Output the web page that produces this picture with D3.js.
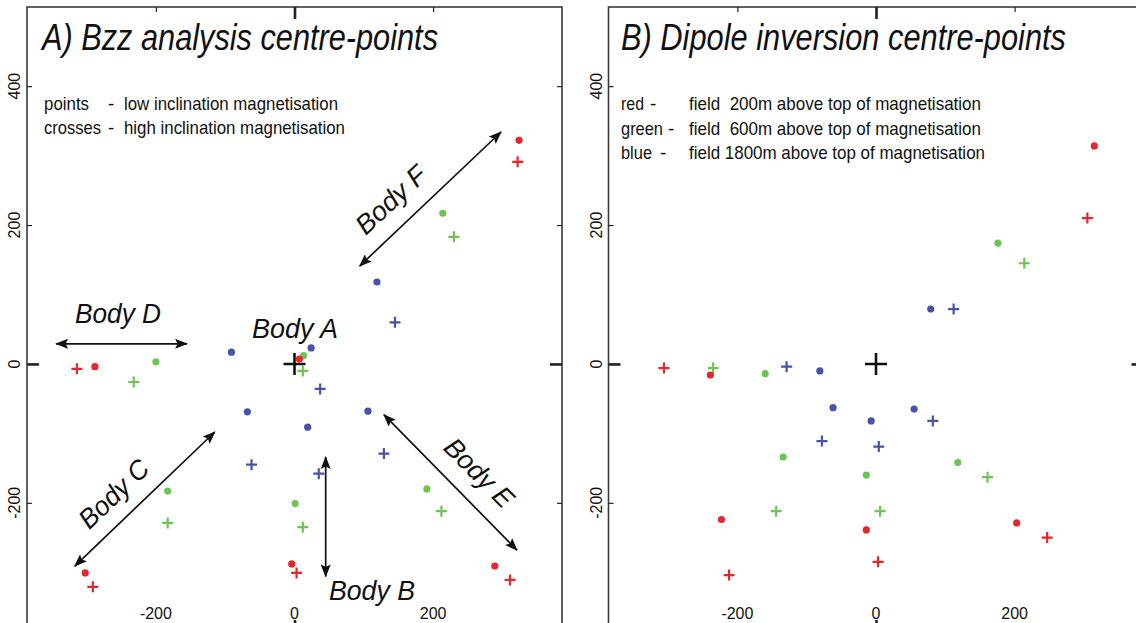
<!DOCTYPE html>
<html>
<head>
<meta charset="utf-8">
<script src="https://cdn.jsdelivr.net/npm/d3@7"></script>
<style>
  html, body { margin: 0; padding: 0; background: #fff; }
  svg { display: block; }
  text { font-family: "Liberation Sans Narrow", "Arial Narrow", "Liberation Sans", Arial, sans-serif; fill: #111; }
</style>
</head>
<body>
<svg id="chart" width="1136" height="623"></svg>
<script>
// ---------------- data ----------------
const xTicks = [-200, 0, 200];
const yTicks = [-200, 0, 200, 400];
const tickLabels = ["-200", "0", "200", "400"];

// Panel A : Bzz analysis centre-points  [x, y] (m)
const aRedDots      = [[7, 7], [-4, -288], [-302, -301], [-288, -4], [289, -291], [324, 322]];
const aRedCrosses   = [[3, -301], [-291, -321], [-314, -7], [311, -311], [322, 291]];
const aGreenDots    = [[13, 12], [1, -201], [-183, -183], [-200, 3], [191, -180], [214, 217]];
const aGreenCrosses = [[12, -10], [12, -235], [-183, -229], [-232, -26], [212, -212], [230, 183]];
const aBlueDots     = [[24, 23], [19, -91], [-68, -69], [-91, 17], [106, -68], [119, 118]];
const aBlueCrosses  = [[37, -36], [35, -158], [-62, -145], [129, -129], [145, 60]];

// Panel B : Dipole inversion centre-points
const bRedDots      = [[315, 314], [-239, -16], [-223, -224], [-14, -239], [203, -229]];
const bRedCrosses   = [[305, 210], [-306, -6], [-212, -304], [3, -285], [247, -250]];
const bGreenDots    = [[176, 174], [-160, -14], [-134, -134], [-14, -160], [118, -142]];
const bGreenCrosses = [[214, 145], [-235, -6], [-144, -212], [6, -212], [161, -163]];
const bBlueDots     = [[79, 79], [-81, -10], [-62, -63], [-7, -82], [55, -65]];
const bBlueCrosses  = [[112, 79], [-129, -4], [-78, -111], [4, -119], [82, -82]];

// Body annotation arrows (panel A), data coords [x1, y1, x2, y2]
const bodyNames  = ["Body F", "Body D", "Body C", "Body E", "Body B", "Body A"];
const bodyArrows = [[94, 141, 298, 334], [-344, 29, -155, 29], [-317, -291, -115, -98], [129, -73, 321, -268], [45, -134, 45, -306]];

const titleA = "A) Bzz analysis centre-points";
const titleB = "B) Dipole inversion centre-points";
const legendA = [["points", "low inclination magnetisation"], ["crosses", "high inclination magnetisation"]];
const legendB = [["red", "field  200m above top of magnetisation"], ["green", "field  600m above top of magnetisation"], ["blue", "field 1800m above top of magnetisation"]];

// ---------------- layout / style ----------------
const COL = { red: "#e3272b", green: "#6cc455", blue: "#4753a9" };
const svg = d3.select("#chart");
const xDomain = [-386, 386], yDomain = [-386, 514];
const yScale = d3.scaleLinear().domain(yDomain).range([632, 7]);

function drawPanel(x0, x1, pts) {
  const x = d3.scaleLinear().domain(xDomain).range([x0, x1]);
  const y = yScale;
  const g = svg.append("g");

  // frame
  g.append("rect").attr("x", x0).attr("y", 7).attr("width", x1 - x0).attr("height", 625)
    .attr("fill", "none").attr("stroke", "#3a3a3a").attr("stroke-width", 1.6);

  const styleAxis = sel => {
    sel.select(".domain").remove();
    sel.selectAll(".tick line").attr("stroke", "#222").attr("stroke-width", 1.2);
    sel.selectAll(".tick").filter(d => d === 0).select("line").attr("stroke-width", 2.6);
  };
  // small inward ticks (non-zero) and long bold tick at 0
  const mk = (axisFn, scale, vals, pos, horiz) => {
    const small = g.append("g").attr("transform", horiz ? `translate(0,${pos})` : `translate(${pos},0)`)
      .call(axisFn(scale).tickValues(vals.filter(v => v !== 0)).tickSize(-5).tickFormat(""));
    styleAxis(small);
    const big = g.append("g").attr("transform", horiz ? `translate(0,${pos})` : `translate(${pos},0)`)
      .call(axisFn(scale).tickValues([0]).tickSize(-12).tickFormat(""));
    styleAxis(big);
  };
  mk(d3.axisLeft, y, yTicks, x0, false);
  mk(d3.axisRight, y, yTicks, x1, false);
  mk(d3.axisTop, x, xTicks, 7, true);
  mk(d3.axisBottom, x, xTicks, 632, true);

  // y tick labels (rotated, outside left)
  g.selectAll(".ylab").data(yTicks).join("text")
    .attr("transform", d => `translate(${x0 - 7},${y(d)}) rotate(-90)`)
    .attr("text-anchor", "middle").attr("font-size", 16)
    .text(d => tickLabels[yTicks.indexOf(d)]);
  // x tick labels
  g.selectAll(".xlab").data(xTicks).join("text")
    .attr("x", d => x(d)).attr("y", 619)
    .attr("text-anchor", "middle").attr("font-size", 16)
    .text(d => tickLabels[yTicks.indexOf(d)]);

  // centre cross
  const cx = x(0), cy = y(0);
  g.append("path").attr("d", `M${cx - 11},${cy}H${cx + 11}M${cx},${cy - 11}V${cy + 11}`)
    .attr("stroke", "#111").attr("stroke-width", 2.6);

  // points
  pts.forEach(([data, colour, shape]) => {
    if (shape === "dot") {
      g.selectAll(null).data(data).join("circle")
        .attr("cx", d => x(d[0])).attr("cy", d => y(d[1])).attr("r", 3.6)
        .attr("fill", COL[colour]);
    } else {
      g.selectAll(null).data(data).join("path")
        .attr("d", d => { const px = x(d[0]), py = y(d[1]); return `M${px - 5.5},${py}H${px + 5.5}M${px},${py - 5.5}V${py + 5.5}`; })
        .attr("stroke", COL[colour]).attr("stroke-width", 2.2);
    }
  });
  return { x, y, g };
}

const A = drawPanel(27, 562, [
  [aBlueDots, "blue", "dot"], [aBlueCrosses, "blue", "cross"],
  [aGreenDots, "green", "dot"], [aGreenCrosses, "green", "cross"],
  [aRedDots, "red", "dot"], [aRedCrosses, "red", "cross"]
]);
const B = drawPanel(608.5, 1143.5, [
  [bBlueDots, "blue", "dot"], [bBlueCrosses, "blue", "cross"],
  [bGreenDots, "green", "dot"], [bGreenCrosses, "green", "cross"],
  [bRedDots, "red", "dot"], [bRedCrosses, "red", "cross"]
]);

// titles
svg.append("text").attr("x", 42).attr("y", 50).attr("font-size", 37).attr("font-style", "italic")
  .attr("textLength", 396).attr("lengthAdjust", "spacingAndGlyphs").text(titleA);
svg.append("text").attr("x", 621).attr("y", 50).attr("font-size", 37).attr("font-style", "italic")
  .attr("textLength", 445).attr("lengthAdjust", "spacingAndGlyphs").text(titleB);

// legend A
const legA = svg.append("g").attr("font-size", 19);
const legAW = [[45, 214], [57, 221]];
legendA.forEach((r, i) => {
  const yy = 110 + i * 24;
  legA.append("text").attr("x", 44).attr("y", yy).attr("textLength", legAW[i][0]).attr("lengthAdjust", "spacingAndGlyphs").text(r[0]);
  legA.append("text").attr("x", 108).attr("y", yy).text("-");
  legA.append("text").attr("x", 124).attr("y", yy).attr("textLength", legAW[i][1]).attr("lengthAdjust", "spacingAndGlyphs").text(r[1]);
});

// legend B
const legB = svg.append("g").attr("font-size", 19);
const legBW = [[23, 650, 292], [42, 668, 292], [31, 660, 296]];
legendB.forEach((r, i) => {
  const yy = 110 + i * 24.5;
  legB.append("text").attr("x", 621).attr("y", yy).attr("textLength", legBW[i][0]).attr("lengthAdjust", "spacingAndGlyphs").text(r[0]);
  legB.append("text").attr("x", legBW[i][1]).attr("y", yy).text("-");
  legB.append("text").attr("x", 689).attr("y", yy).attr("textLength", legBW[i][2]).attr("lengthAdjust", "spacingAndGlyphs")
    .style("white-space", "pre").text(r[1]);
});

// arrows (panel A)
const defs = svg.append("defs");
["s", "e"].forEach(k => {
  defs.append("marker").attr("id", "ah" + k).attr("viewBox", "0 0 13 10")
    .attr("refX", 12).attr("refY", 5).attr("markerWidth", 13).attr("markerHeight", 10)
    .attr("markerUnits", "userSpaceOnUse").attr("orient", k === "s" ? "auto-start-reverse" : "auto")
    .append("path").attr("d", "M0,0L13,5L0,10L2.5,5Z").attr("fill", "#111");
});
A.g.selectAll(".arrow").data(bodyArrows).join("line")
  .attr("x1", d => A.x(d[0])).attr("y1", d => A.y(d[1]))
  .attr("x2", d => A.x(d[2])).attr("y2", d => A.y(d[3]))
  .attr("stroke", "#111").attr("stroke-width", 1.7)
  .attr("marker-start", "url(#ahs)").attr("marker-end", "url(#ahe)");

// body labels: [centre-x px, centre-y px, rotation]
const bodyLabelPos = [[391, 200, -43], [118, 314, 0], [114, 494, -44], [479, 473, 45], [372, 591, 0], [295, 329, 0]];
bodyNames.forEach((name, i) => {
  const p = bodyLabelPos[i];
  svg.append("text").attr("transform", `translate(${p[0]},${p[1]}) rotate(${p[2]})`)
    .attr("text-anchor", "middle").attr("dominant-baseline", "central")
    .attr("font-size", 27).attr("font-style", "italic")
    .attr("textLength", 86).attr("lengthAdjust", "spacingAndGlyphs")
    .text(name);
});
</script>
</body>
</html>
